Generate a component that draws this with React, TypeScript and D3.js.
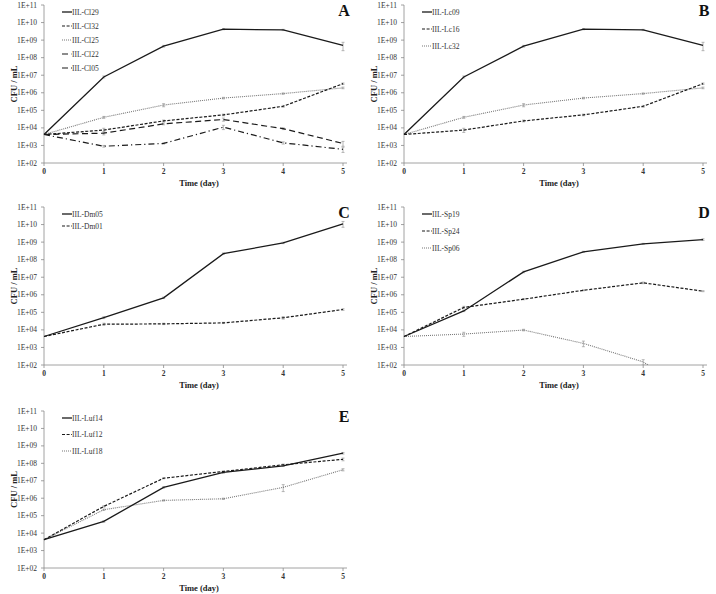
import { useEffect, useRef } from 'react'
import * as d3 from 'd3'

const DAYS = [0, 1, 2, 3, 4, 5]
const Y_TICKS = [1e2, 1e3, 1e4, 1e5, 1e6, 1e7, 1e8, 1e9, 1e10, 1e11]
const Y_TICK_LABELS = ['1E+02', '1E+03', '1E+04', '1E+05', '1E+06', '1E+07', '1E+08', '1E+09', '1E+10', '1E+11']

// A
const CL29 = [4.2e3, 8e6, 4.5e8, 4.2e9, 3.8e9, 5e8]
const CL29_ERR = [0, 1e6, 5e7, 3e8, 3e8, 2.5e8]
const CL32 = [4.2e3, 7.5e3, 2.5e4, 5.5e4, 1.7e5, 3.3e6]
const CL32_ERR = [0, 2e3, 3e3, 6e3, 2e4, 3e5]
const CL25 = [4.2e3, 4e4, 2e5, 5e5, 9e5, 1.9e6]
const CL25_ERR = [0, 5e3, 4e4, 5e4, 8e4, 2e5]
const CL22 = [4.2e3, 5e3, 1.7e4, 3e4, 9e3, 1.3e3]
const CL22_ERR = [0, 1e3, 2e3, 6e3, 1e3, 4e2]
const CL05 = [4.2e3, 9e2, 1.3e3, 1.1e4, 1.4e3, 6e2]
const CL05_ERR = [0, 1e2, 1e2, 3e3, 2e2, 2e2]

// B
const LC09 = [4.2e3, 8e6, 4.5e8, 4.2e9, 3.8e9, 5e8]
const LC09_ERR = [0, 1e6, 5e7, 3e8, 3e8, 2.5e8]
const LC16 = [4.2e3, 7.5e3, 2.5e4, 5.5e4, 1.7e5, 3.3e6]
const LC16_ERR = [0, 2e3, 3e3, 6e3, 2e4, 3e5]
const LC32 = [4.2e3, 4e4, 2e5, 5e5, 9e5, 1.9e6]
const LC32_ERR = [0, 5e3, 4e4, 5e4, 8e4, 2e5]

// C
const DM05 = [4.2e3, 5e4, 6.7e5, 2.2e8, 9e8, 1.1e10]
const DM05_ERR = [0, 6e3, 6e4, 2e7, 8e7, 4e9]
const DM01 = [4.2e3, 2.1e4, 2.2e4, 2.5e4, 4.9e4, 1.45e5]
const DM01_ERR = [0, 3e3, 2e3, 2e3, 8e3, 1.5e4]

// D
const SP19 = [4.2e3, 1.2e5, 2e7, 2.8e8, 8e8, 1.4e9]
const SP19_ERR = [0, 1e4, 2e6, 2e7, 5e7, 1.5e8]
const SP24 = [4.2e3, 1.9e5, 5.6e5, 1.8e6, 4.8e6, 1.6e6]
const SP24_ERR = [0, 3e4, 4e4, 1e5, 5e5, 1e5]
const SP06 = [4.2e3, 5.8e3, 9.8e3, 1.7e3, 1.5e2, 1]
const SP06_ERR = [0, 1.5e3, 1e3, 6e2, 5e1, 0]

// E
const LUF14 = [4.2e3, 4.7e4, 4.2e6, 3e7, 7.2e7, 3.8e8]
const LUF14_ERR = [0, 5e3, 4e5, 3e6, 6e6, 4e7]
const LUF12 = [4.2e3, 3.4e5, 1.4e7, 3.4e7, 8.3e7, 1.7e8]
const LUF12_ERR = [0, 3e4, 1e6, 3e6, 8e6, 3e7]
const LUF18 = [4.2e3, 2.2e5, 7.5e5, 9.3e5, 4.2e6, 4.3e7]
const LUF18_ERR = [0, 2e4, 6e4, 8e4, 1.8e6, 6e6]

type Style = 'solid' | 'dense' | 'dotted' | 'long' | 'dashdot'
interface Series { name: string; values: number[]; err: number[]; style: Style }
interface Panel { id: string; x0: number; top: number; bottom: number; legendGap: number; series: Series[] }

const STYLES: Record<Style, { dash: string | null; color: string; width: number }> = {
  solid: { dash: null, color: '#1a1a1a', width: 1.3 },
  dense: { dash: '3,1.6', color: '#1a1a1a', width: 1.2 },
  dotted: { dash: '1,1', color: '#777', width: 1.1 },
  long: { dash: '6,3.5', color: '#1a1a1a', width: 1.2 },
  dashdot: { dash: '6,3,1.2,3', color: '#1a1a1a', width: 1.2 },
}

const PANELS: Panel[] = [
  {
    id: 'A', x0: 44, top: 5, bottom: 163, legendGap: 14,
    series: [
      { name: 'IIL-Cl29', values: CL29, err: CL29_ERR, style: 'solid' },
      { name: 'IIL-Cl32', values: CL32, err: CL32_ERR, style: 'dense' },
      { name: 'IIL-Cl25', values: CL25, err: CL25_ERR, style: 'dotted' },
      { name: 'IIL-Cl22', values: CL22, err: CL22_ERR, style: 'long' },
      { name: 'IIL-Cl05', values: CL05, err: CL05_ERR, style: 'dashdot' },
    ],
  },
  {
    id: 'B', x0: 404, top: 5, bottom: 163, legendGap: 17,
    series: [
      { name: 'IIL-Lc09', values: LC09, err: LC09_ERR, style: 'solid' },
      { name: 'IIL-Lc16', values: LC16, err: LC16_ERR, style: 'dense' },
      { name: 'IIL-Lc32', values: LC32, err: LC32_ERR, style: 'dotted' },
    ],
  },
  {
    id: 'C', x0: 44, top: 207, bottom: 365, legendGap: 12,
    series: [
      { name: 'IIL-Dm05', values: DM05, err: DM05_ERR, style: 'solid' },
      { name: 'IIL-Dm01', values: DM01, err: DM01_ERR, style: 'dense' },
    ],
  },
  {
    id: 'D', x0: 404, top: 207, bottom: 365, legendGap: 17,
    series: [
      { name: 'IIL-Sp19', values: SP19, err: SP19_ERR, style: 'solid' },
      { name: 'IIL-Sp24', values: SP24, err: SP24_ERR, style: 'dense' },
      { name: 'IIL-Sp06', values: SP06, err: SP06_ERR, style: 'dotted' },
    ],
  },
  {
    id: 'E', x0: 44, top: 411, bottom: 568, legendGap: 16.5,
    series: [
      { name: 'IIL-Luf14', values: LUF14, err: LUF14_ERR, style: 'solid' },
      { name: 'IIL-Luf12', values: LUF12, err: LUF12_ERR, style: 'dense' },
      { name: 'IIL-Luf18', values: LUF18, err: LUF18_ERR, style: 'dotted' },
    ],
  },
]

const FONT = '"Liberation Serif", "Times New Roman", serif'

export default function App() {
  const ref = useRef<SVGSVGElement>(null)

  useEffect(() => {
    if (!ref.current) return
    const svg = d3.select(ref.current)
    svg.selectAll('*').remove()
    svg.attr('font-family', FONT)

    const defs = svg.append('defs')

    PANELS.forEach(p => {
      const plotW = 299
      const x = d3.scaleLinear().domain([0, 5]).range([p.x0, p.x0 + plotW])
      const y = d3.scaleLog().domain([1e2, 1e11]).range([p.bottom, p.top])
      const g = svg.append('g')

      defs.append('clipPath').attr('id', `clip-${p.id}`)
        .append('rect')
        .attr('x', p.x0 - 4).attr('y', p.top - 4)
        .attr('width', plotW + 10).attr('height', p.bottom - p.top + 4)

      // axes
      g.append('line')
        .attr('x1', p.x0).attr('x2', p.x0)
        .attr('y1', p.top).attr('y2', p.bottom)
        .attr('stroke', '#8a8a8a').attr('stroke-width', 0.8)
      g.append('line')
        .attr('x1', p.x0).attr('x2', p.x0 + plotW + 4)
        .attr('y1', p.bottom).attr('y2', p.bottom)
        .attr('stroke', '#8a8a8a').attr('stroke-width', 0.8)

      Y_TICKS.forEach((t, i) => {
        g.append('line')
          .attr('x1', p.x0 - 3).attr('x2', p.x0)
          .attr('y1', y(t)).attr('y2', y(t))
          .attr('stroke', '#8a8a8a').attr('stroke-width', 0.8)
        g.append('text')
          .attr('x', p.x0 - 7).attr('y', y(t) + 2.5)
          .attr('text-anchor', 'end')
          .attr('font-size', '7.5px').attr('fill', '#333')
          .text(Y_TICK_LABELS[i])
      })

      DAYS.forEach(d => {
        g.append('line')
          .attr('x1', x(d)).attr('x2', x(d))
          .attr('y1', p.bottom).attr('y2', p.bottom + 3)
          .attr('stroke', '#8a8a8a').attr('stroke-width', 0.8)
        g.append('text')
          .attr('x', x(d)).attr('y', p.bottom + 11)
          .attr('text-anchor', 'middle')
          .attr('font-size', '7.5px').attr('font-weight', 'bold').attr('fill', '#333')
          .text(d)
      })

      g.append('text')
        .attr('x', p.x0 + 155).attr('y', p.bottom + 23)
        .attr('text-anchor', 'middle')
        .attr('font-size', '8.5px').attr('font-weight', 'bold').attr('fill', '#222')
        .text('Time (day)')

      g.append('text')
        .attr('transform', `translate(${p.x0 - 27},${(p.top + p.bottom) / 2}) rotate(-90)`)
        .attr('text-anchor', 'middle')
        .attr('font-size', '8.5px').attr('font-weight', 'bold').attr('fill', '#222')
        .text('CFU / mL')

      g.append('text')
        .attr('x', p.x0 + 300).attr('y', p.top + 11)
        .attr('text-anchor', 'middle')
        .attr('font-size', '16px').attr('font-weight', 'bold').attr('fill', '#111')
        .text(p.id)

      const plot = g.append('g').attr('clip-path', `url(#clip-${p.id})`)

      // error bars
      p.series.forEach(s => {
        s.values.forEach((v, i) => {
          const e = s.err[i]
          if (!e) return
          const lo = Math.max(v - e, 1)
          const hi = v + e
          const cx = x(DAYS[i])
          plot.append('line')
            .attr('x1', cx).attr('x2', cx).attr('y1', y(lo)).attr('y2', y(hi))
            .attr('stroke', '#999').attr('stroke-width', 0.7)
          ;[lo, hi].forEach(b => {
            plot.append('line')
              .attr('x1', cx - 1.5).attr('x2', cx + 1.5).attr('y1', y(b)).attr('y2', y(b))
              .attr('stroke', '#999').attr('stroke-width', 0.7)
          })
        })
      })

      const line = d3.line<number>()
        .x((_, i) => x(DAYS[i]))
        .y(d => y(d))

      p.series.slice().reverse().forEach(s => {
        const st = STYLES[s.style]
        plot.append('path')
          .attr('d', line(s.values))
          .attr('fill', 'none')
          .attr('stroke', st.color)
          .attr('stroke-width', st.width)
          .attr('stroke-dasharray', st.dash)
      })

      // legend
      p.series.forEach((s, i) => {
        const st = STYLES[s.style]
        const ly = p.top + 7 + i * p.legendGap
        g.append('line')
          .attr('x1', p.x0 + 18).attr('x2', p.x0 + 28)
          .attr('y1', ly).attr('y2', ly)
          .attr('stroke', st.color).attr('stroke-width', st.width)
          .attr('stroke-dasharray', st.dash)
        g.append('text')
          .attr('x', p.x0 + 28).attr('y', ly + 2.5)
          .attr('font-size', '7.5px').attr('fill', '#333')
          .text(s.name)
      })
    })
  }, [])

  return (
    <div style={{ position: 'absolute', left: 0, top: 0, width: 716, height: 594, background: '#fff' }}>
      <svg ref={ref} width={716} height={594} style={{ display: 'block' }} />
    </div>
  )
}
